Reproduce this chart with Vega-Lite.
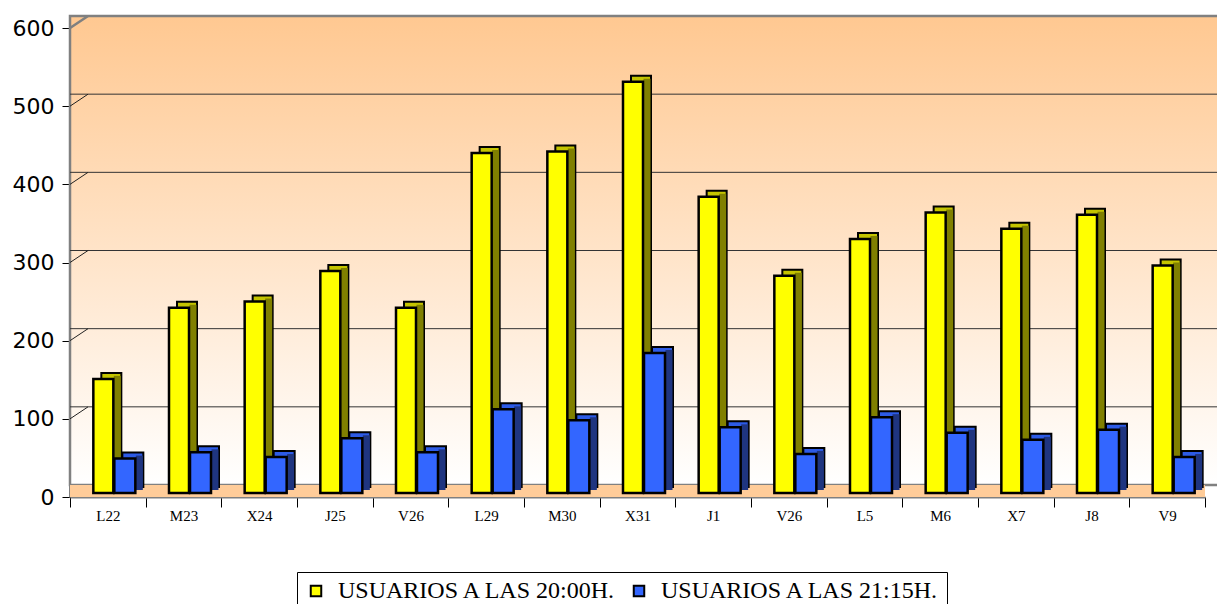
{
  "$schema": "https://vega.github.io/schema/vega-lite/v6.json",
  "width": 1135,
  "height": 469,
  "autosize": "none",
  "padding": {"left": 70, "top": 28, "right": 12, "bottom": 107},
  "background": "white",
  "config": {"view": {"stroke": null}},
  "data": {"values": [
    {"dia": "L22", "u20": 146, "u21": 44},
    {"dia": "M23", "u20": 237, "u21": 52},
    {"dia": "X24", "u20": 245, "u21": 46},
    {"dia": "J25", "u20": 284, "u21": 70},
    {"dia": "V26", "u20": 237, "u21": 52},
    {"dia": "L29", "u20": 435, "u21": 107},
    {"dia": "M30", "u20": 437, "u21": 93},
    {"dia": "X31", "u20": 526, "u21": 179},
    {"dia": "J1", "u20": 379, "u21": 84},
    {"dia": "V26 ", "u20": 278, "u21": 50},
    {"dia": "L5", "u20": 325, "u21": 97},
    {"dia": "M6", "u20": 359, "u21": 77},
    {"dia": "X7", "u20": 338, "u21": 68},
    {"dia": "J8", "u20": 356, "u21": 81},
    {"dia": "V9", "u20": 291, "u21": 46}
  ]},
  "layer": [
    {
      "data": {"values": [{}]},
      "mark": {"type": "rect", "stroke": null,
        "fill": {"gradient": "linear", "x1": 0, "y1": 0, "x2": 0, "y2": 1,
          "stops": [{"offset": 0, "color": "#FFC891"}, {"offset": 1, "color": "#FFFFFF"}]}},
      "encoding": {
        "y": {"datum": 0, "type": "quantitative", "scale": {"domain": [0, 600], "nice": false},
          "axis": {"title": null, "values": [0, 100, 200, 300, 400, 500, 600], "tickSize": 8, "tickColor": "black", "grid": false,
            "domainColor": "#808080", "domainWidth": 3, "labelFont": "DejaVu Sans", "labelFontSize": 22, "labelColor": "black", "labelPadding": 8}},
        "y2": {"datum": 600}
      }
    },
    {
      "data": {"values": [{}]},
      "mark": {"type": "rect", "stroke": "#808080", "strokeWidth": 2.5, "xOffset": 18, "x2Offset": 18, "yOffset": -12, "y2Offset": -12,
        "fill": {"gradient": "linear", "x1": 0, "y1": 0, "x2": 0, "y2": 1,
          "stops": [{"offset": 0, "color": "#FFC891"}, {"offset": 1, "color": "#FFFFFF"}]}},
      "encoding": {
        "y": {"datum": 0, "type": "quantitative"},
        "y2": {"datum": 600}
      }
    },
    {
      "data": {"values": [{"v": 100}, {"v": 200}, {"v": 300}, {"v": 400}, {"v": 500}]},
      "mark": {"type": "rule", "color": "#333333", "strokeWidth": 1, "xOffset": 18, "x2Offset": 18, "yOffset": -12},
      "encoding": {
        "y": {"field": "v", "type": "quantitative"}
      }
    },
    {
      "data": {"values": [{"v": 100}, {"v": 200}, {"v": 300}, {"v": 400}, {"v": 500}]},
      "mark": {"type": "rule", "color": "#222222", "strokeWidth": 1, "xOffset": -37.8, "x2Offset": -19.8, "y2Offset": -12},
      "encoding": {
        "x": {"datum": "L22"},
        "x2": {"datum": "L22"},
        "y": {"field": "v", "type": "quantitative"},
        "y2": {"field": "v"}
      }
    },
    {
      "data": {"values": [{"v": 600}]},
      "mark": {"type": "rule", "color": "#808080", "strokeWidth": 2.5, "xOffset": -37.8, "x2Offset": -19.8, "y2Offset": -12},
      "encoding": {
        "x": {"datum": "L22"},
        "x2": {"datum": "L22"},
        "y": {"field": "v", "type": "quantitative"},
        "y2": {"field": "v"}
      }
    },
    {
      "data": {"values": [{}]},
      "mark": {"type": "rect", "fill": "#FFCC99", "stroke": null, "yOffset": 0, "y2Offset": -12, "x2Offset": 14},
      "encoding": {
        "y": {"datum": 0, "type": "quantitative"},
        "y2": {"datum": 0}
      }
    },
    {
      "mark": {"type": "bar", "fill": "#C4C400", "stroke": "black", "strokeWidth": 2, "width": 20, "xOffset": 3.5, "yOffset": -10, "y2Offset": -4},
      "encoding": {
        "x": {"field": "dia", "type": "nominal", "sort": null,
          "scale": {"paddingInner": 0, "paddingOuter": 0},
          "axis": {"title": null, "labelAngle": 0, "labelAlign": "center", "tickBand": "extent", "tickSize": 10, "tickColor": "black", "tickWidth": 1,
            "domainColor": "#808080", "domainWidth": 2, "labelFont": "Liberation Serif", "labelFontSize": 15, "labelColor": "black", "labelPadding": 8}},
        "y": {"field": "u20", "type": "quantitative"}
      }
    },
    {
      "mark": {"type": "bar", "fill": "#808000", "stroke": null, "width": 7, "xOffset": 9.5, "yOffset": -7, "y2Offset": -4},
      "encoding": {
        "x": {"field": "dia", "type": "nominal", "sort": null},
        "y": {"field": "u20", "type": "quantitative"}
      }
    },
    {
      "mark": {"type": "bar", "stroke": "black", "strokeWidth": 2.5, "width": 20, "xOffset": -4.5, "yOffset": -4, "y2Offset": -4},
      "encoding": {
        "x": {"field": "dia", "type": "nominal", "sort": null},
        "y": {"field": "u20", "type": "quantitative"},
        "color": {"datum": "USUARIOS A LAS 20:00H.", "type": "nominal",
          "scale": {"domain": ["USUARIOS A LAS 20:00H.", "USUARIOS A LAS 21:15H."], "range": ["#FFFF00", "#3366FF"]},
          "legend": {"title": null, "orient": "none", "legendX": 227, "legendY": 544, "direction": "horizontal",
            "strokeColor": "black", "fillColor": "white", "padding": 7, "symbolType": "square", "symbolSize": 110,
            "symbolStrokeColor": "black", "symbolStrokeWidth": 2, "labelFont": "Liberation Serif", "labelFontSize": 24,
            "labelColor": "black", "labelLimit": 0, "columnPadding": 10, "labelOffset": 10}}
      }
    },
    {
      "mark": {"type": "bar", "fill": "#2D5BE6", "stroke": "black", "strokeWidth": 2, "width": 21, "xOffset": 25, "yOffset": -10, "y2Offset": -4},
      "encoding": {
        "x": {"field": "dia", "type": "nominal", "sort": null},
        "y": {"field": "u21", "type": "quantitative"}
      }
    },
    {
      "mark": {"type": "bar", "fill": "#1F3580", "stroke": null, "width": 7, "xOffset": 31.5, "yOffset": -7, "y2Offset": -4},
      "encoding": {
        "x": {"field": "dia", "type": "nominal", "sort": null},
        "y": {"field": "u21", "type": "quantitative"}
      }
    },
    {
      "mark": {"type": "bar", "stroke": "black", "strokeWidth": 2.5, "width": 21, "xOffset": 17, "yOffset": -4, "y2Offset": -4},
      "encoding": {
        "x": {"field": "dia", "type": "nominal", "sort": null},
        "y": {"field": "u21", "type": "quantitative"},
        "color": {"datum": "USUARIOS A LAS 21:15H.", "type": "nominal"}
      }
    }
  ]
}
